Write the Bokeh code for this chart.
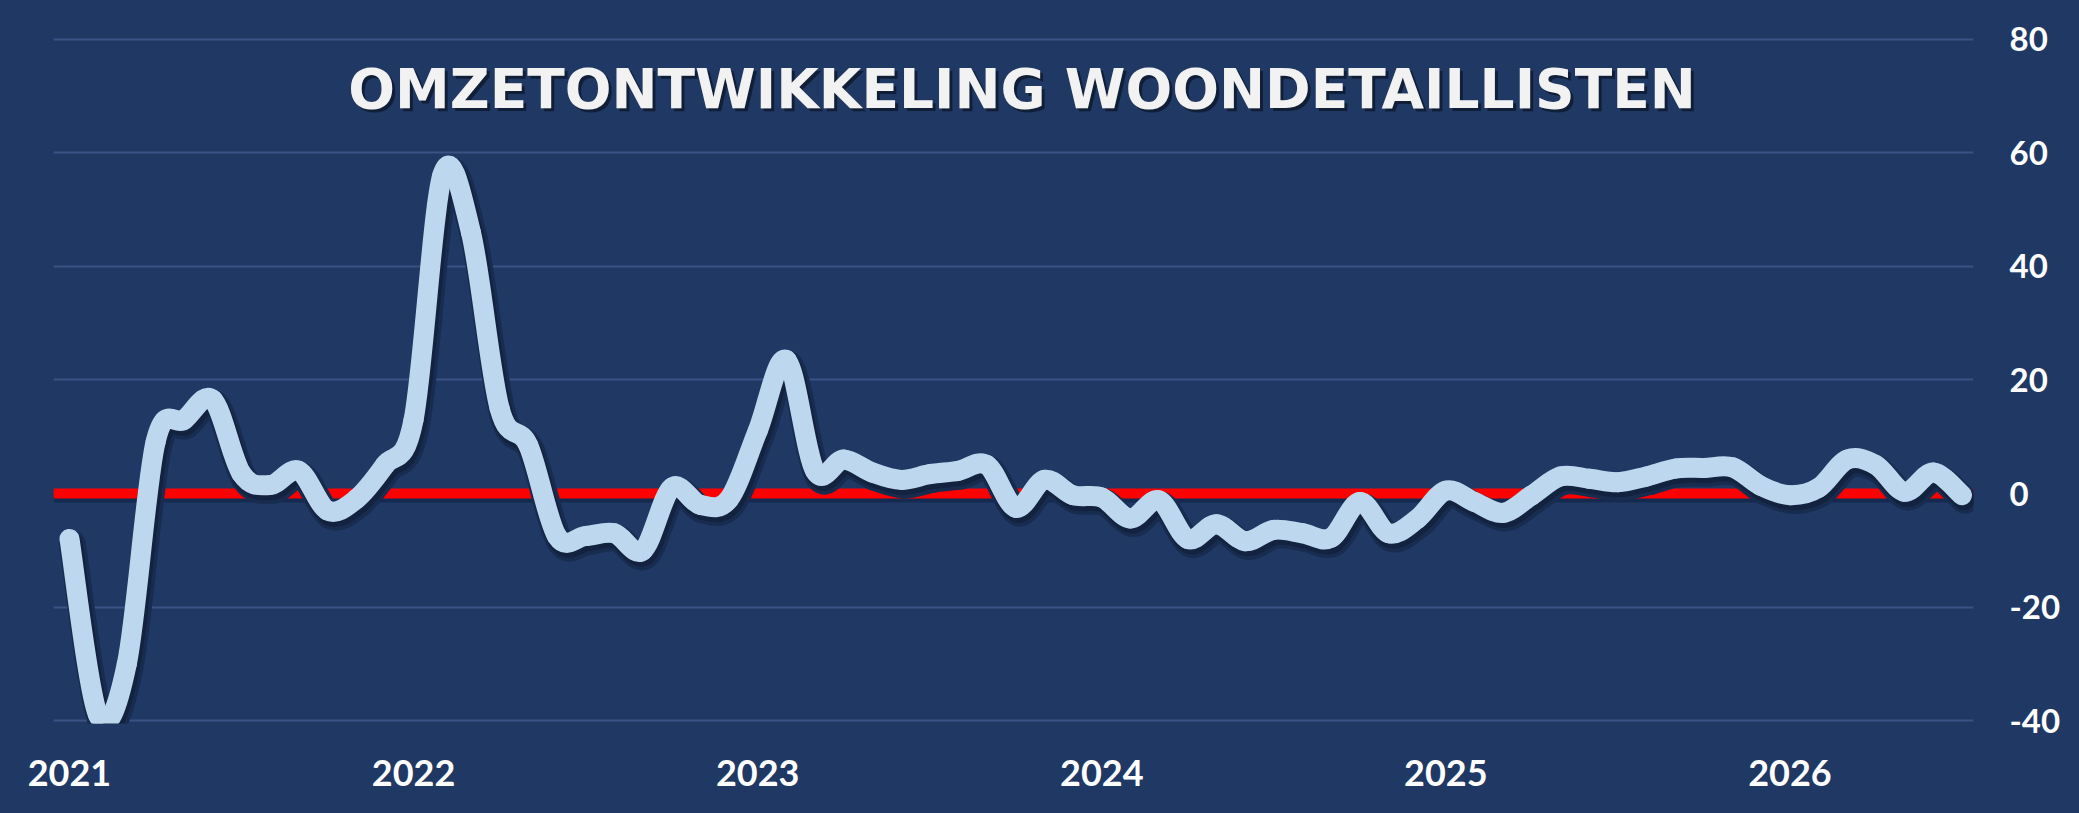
import numpy as np
from bokeh.plotting import figure
from bokeh.models import ColumnDataSource, Range1d, FixedTicker, Span, Label
from bokeh.transform import dodge
from bokeh.embed import file_html
from bokeh.resources import INLINE

# ---- data (monthly, Jan 2021 .. Jul 2026) ----
month_index = list(range(67))
values = [
    -8, -39, -30, 9, 13, 16.5, 3.5, 1.5, 4, -3, -1, 5,            # 2021
    13, 56, 46, 15, 8.5, -7.5, -7.5, -7, -10, 1, -2, -1,          # 2022
    11, 23.5, 4, 6, 3.7, 2.4, 3.4, 4, 5, -2.5, 2.4, -0.3,         # 2023
    -0.7, -4.4, -1.2, -8, -5.4, -8.4, -6.4, -7, -7.8, -1.5, -7, -4.5,  # 2024
    0.5, -1.5, -3.4, -0.3, 3, 2.6, 2, 3, 4.4, 4.5, 4.6, 1.3,      # 2025
    -0.3, 1, 6, 5, 0.3, 3.7, -0.3,                                # 2026
]
x_ticks = [0, 12, 24, 36, 48, 60]
x_tick_labels = ["2021", "2022", "2023", "2024", "2025", "2026"]
y_ticks = [-40, -20, 0, 20, 40, 60, 80]
y_tick_labels = ["-40", "-20", "0", "20", "40", "60", "80"]
title_text = "OMZETONTWIKKELING WOONDETAILLISTEN"

BG = "#203864"
GRID = "#3A5284"
LINE = "#BDD7EE"

# smoothed-line rendering (like a spreadsheet "smoothed line"):
# one cubic Bezier per pair of neighbouring data points
xs = np.asarray(month_index, dtype=float)
ys = np.asarray(values, dtype=float)
xp = np.concatenate([[xs[0]], xs, [xs[-1]]])
yp = np.concatenate([[ys[0]], ys, [ys[-1]]])
n = len(xs) - 1
seg = dict(
    x0=xs[:-1], y0=ys[:-1], x1=xs[1:], y1=ys[1:],
    cx0=xs[:-1] + (xp[2:n + 2] - xp[0:n]) / 6.0,
    cy0=ys[:-1] + (yp[2:n + 2] - yp[0:n]) / 6.0,
    cx1=xs[1:] - (xp[3:n + 3] - xp[1:n + 1]) / 6.0,
    cy1=ys[1:] - (yp[3:n + 3] - yp[1:n + 1]) / 6.0,
)
source = ColumnDataSource(seg)

p = figure(width=2063, height=797,
           x_range=Range1d(-0.557, 66.4), y_range=Range1d(-40.5, 80.3),
           y_axis_location="right",
           output_backend="svg", toolbar_location=None,
           min_border_left=53, min_border_top=37,
           min_border_right=85, min_border_bottom=74,
           background_fill_color=None, border_fill_color=BG,
           outline_line_color=None)

# grid
p.xgrid.visible = False
p.ygrid.ticker = FixedTicker(ticks=y_ticks)
p.ygrid.grid_line_color = GRID
p.ygrid.grid_line_width = 2

# axes
for ax in (p.xaxis[0], p.yaxis[0]):
    ax.axis_line_color = None
    ax.major_tick_line_color = None
    ax.minor_tick_line_color = None
    ax.major_tick_out = 0
    ax.major_tick_in = 0
    ax.major_label_text_color = "white"
    ax.major_label_text_font = "Lato"
    ax.major_label_text_font_style = "bold"

p.xaxis.ticker = FixedTicker(ticks=x_ticks)
p.xaxis.major_label_overrides = {t: l for t, l in zip(x_ticks, x_tick_labels)}
p.xaxis.major_label_text_font_size = "36px"
p.xaxis.major_label_text_line_height = 1.0
p.xaxis.major_label_standoff = 36

p.yaxis.ticker = FixedTicker(ticks=y_ticks)
p.yaxis.major_label_overrides = {t: l for t, l in zip(y_ticks, y_tick_labels)}
p.yaxis.major_label_text_font_size = "33px"
p.yaxis.major_label_standoff = 36

# zero line (red) with a faint shadow under it
zero_shadow = Span(location=-0.9, dimension="width", line_color="#152A50",
                   line_width=8, level="underlay")
zero = Span(location=0, dimension="width", line_color="#FF0000", line_width=10, level="underlay")
p.add_layout(zero_shadow)
p.add_layout(zero)

# soft shadow under the line
p.bezier(x0=dodge("x0", 0.1), y0=dodge("y0", -0.9), x1=dodge("x1", 0.1), y1=dodge("y1", -0.9),
         cx0=dodge("cx0", 0.1), cy0=dodge("cy0", -0.9), cx1=dodge("cx1", 0.1), cy1=dodge("cy1", -0.9),
         source=source, line_color="#182C50", line_width=27, line_cap="round")
p.bezier(x0=dodge("x0", 0.07), y0=dodge("y0", -0.7), x1=dodge("x1", 0.07), y1=dodge("y1", -0.7),
         cx0=dodge("cx0", 0.07), cy0=dodge("cy0", -0.7), cx1=dodge("cx1", 0.07), cy1=dodge("cy1", -0.7),
         source=source, line_color="#13223F", line_width=22, line_cap="round")

# main line
p.bezier(x0="x0", y0="y0", x1="x1", y1="y1", cx0="cx0", cy0="cy0", cx1="cx1", cy1="cy1",
         source=source, line_color=LINE, line_width=20, line_cap="round")

# title inside the plot
title_shadow = Label(x=33.22, y=71.25, text=title_text, text_align="center",
                     text_baseline="alphabetic", text_font="DejaVu Sans",
                     text_font_style="bold", text_font_size="55px",
                     text_color="black", text_alpha=0.45, x_offset=3, y_offset=-3)
title = Label(x=33.22, y=71.25, text=title_text, text_align="center",
              text_baseline="alphabetic", text_font="DejaVu Sans",
              text_font_style="bold", text_font_size="55px",
              text_color="#F2F2F2")
p.add_layout(title_shadow)
p.add_layout(title)

html = file_html(p, INLINE)
html = html.replace("</head>", "<style>html, body { background-color: #203864; }</style></head>", 1)
open("out.html", "w").write(html)
